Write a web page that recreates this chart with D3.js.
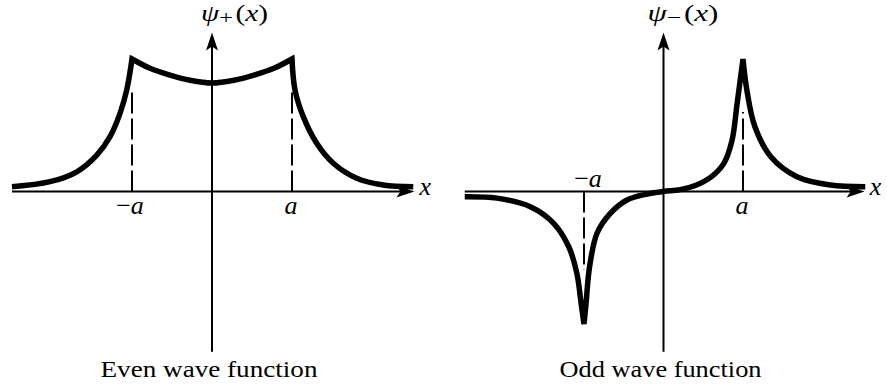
<!DOCTYPE html>
<html>
<head>
<meta charset="utf-8">
<script src="https://cdn.jsdelivr.net/npm/d3@7"></script>
<style>
  body { margin: 0; background: #fff; }
  svg { display: block; }
</style>
</head>
<body>
<div id="chart"></div>
<script>

// curve samples, x in units of a, y relative to the peak
var evenLeftTail = [[-2.5, 0.036], [-2.025, 0.074], [-1.69, 0.149], [-1.44, 0.275], [-1.275, 0.414], [-1.15, 0.59], [-1.066, 0.766], [-1.0, 1.0]];
var evenInner = [[-1.0, 1.0], [-0.775, 0.93], [-0.525, 0.879], [-0.275, 0.84], [0, 0.819], [0.275, 0.84], [0.525, 0.879], [0.775, 0.93], [1.0, 1.0]];
var evenRightTail = [[1.0, 1.0], [1.0375, 0.766], [1.141, 0.565], [1.309, 0.364], [1.516, 0.213], [1.809, 0.1], [2.141, 0.049], [2.516, 0.036]];

var oddLeftTail = [[-2.5, -0.039], [-2.094, -0.05], [-1.675, -0.115], [-1.381, -0.24], [-1.192, -0.417], [-1.09, -0.617], [-1.035, -0.85], [-1.0, -1.0]];
var oddInner = [[-1.0, -1.0], [-0.975, -0.85], [-0.93, -0.568], [-0.836, -0.315], [-0.669, -0.165], [-0.459, -0.064], [-0.208, -0.019], [0, 0],
                [0.211, 0.014], [0.4, 0.045], [0.6, 0.11], [0.757, 0.21], [0.86, 0.38], [0.925, 0.66], [1.0, 1.0]];
var oddRightTail = [[1.0, 1.0], [1.05, 0.76], [1.15, 0.489], [1.35, 0.263], [1.679, 0.112], [2.098, 0.049], [2.538, 0.036]];

// dashed guides at x = -a and x = a : [x, end of dash]
var evenGuides = [[-1, 0.774], [1, 0.774]];
var oddGuides = [[-1, -0.59], [1, 0.6]];

var panelTitles = ["Even wave function", "Odd wave function"];
var psiSubs = ["+", "\u2212"];

var serif = "'Times New Roman', 'Liberation Serif', serif";
var width = 887, height = 389;

var svg = d3.select("#chart").append("svg")
    .attr("width", width)
    .attr("height", height);

var y = d3.scaleLinear().domain([0, 1]).range([191.5, 59]);

var xEven = d3.scaleLinear().domain([-2.5, 2.5]).range([12, 412]);
var xOdd = d3.scaleLinear().domain([-2.5, 2.5]).range([464.75, 862.25]);

var panels = [
  { x: xEven, segs: [evenLeftTail, evenInner, evenRightTail], guides: evenGuides, title: panelTitles[0], sub: psiSubs[0],
    titleLen: 217, psiDx: -11, psiLen: 67, negBelow: true },
  { x: xOdd, segs: [oddLeftTail, oddInner, oddRightTail], guides: oddGuides, title: panelTitles[1], sub: psiSubs[1],
    titleLen: 202, psiDx: -16, psiLen: 71, negBelow: false }
];

function arrowPath(tx, ty, dir) {
  // dir: "right" or "up"
  if (dir == "right") {
    return "M" + tx + "," + ty + "L" + (tx - 18) + "," + (ty - 6) + "L" + (tx - 14) + "," + ty + "L" + (tx - 18) + "," + (ty + 6) + "Z";
  }
  return "M" + tx + "," + ty + "L" + (tx - 6) + "," + (ty + 18) + "L" + tx + "," + (ty + 14) + "L" + (tx + 6) + "," + (ty + 18) + "Z";
}

function addText(g) {
  return g.append("text").style("font-family", serif).attr("fill", "#000");
}

panels.forEach(function(p) {
  var g = svg.append("g");
  var x = p.x;

  // axes
  var xTip = x(2.53), yTip = y(1.2);
  g.append("line")
    .attr("x1", x(-2.5)).attr("x2", xTip - 6)
    .attr("y1", y(0)).attr("y2", y(0))
    .attr("stroke", "#000").attr("stroke-width", 2);
  g.append("path").attr("d", arrowPath(xTip, y(0), "right")).attr("fill", "#000");

  g.append("line")
    .attr("x1", x(0)).attr("x2", x(0))
    .attr("y1", y(-1.21)).attr("y2", yTip + 6)
    .attr("stroke", "#000").attr("stroke-width", 2);
  g.append("path").attr("d", arrowPath(x(0), yTip, "up")).attr("fill", "#000");

  // dashed guides
  g.selectAll(".guide")
    .data(p.guides)
    .enter()
    .append("line")
    .attr("class", "guide")
    .attr("x1", function(d) { return x(d[0]); })
    .attr("x2", function(d) { return x(d[0]); })
    .attr("y1", y(0))
    .attr("y2", function(d) { return y(d[1]); })
    .attr("stroke", "#000")
    .attr("stroke-width", 2)
    .attr("stroke-dasharray", "21,5");

  // wave function: one path, segments joined at the cusps
  var line = d3.line()
    .x(function(d) { return x(d[0]); })
    .y(function(d) { return y(d[1]); })
    .curve(d3.curveCatmullRom.alpha(0.5));

  var dStr = "";
  p.segs.forEach(function(s, i) {
    var part = line(s);
    if (i > 0) part = part.replace(/^M[^A-Za-z]*/, "");
    dStr += part;
  });

  g.append("path")
    .attr("d", dStr)
    .attr("fill", "none")
    .attr("stroke", "#000")
    .attr("stroke-width", 5.5)
    .attr("stroke-linejoin", "miter")
    .attr("stroke-miterlimit", 4);

  // labels
  var psi = addText(g)
    .attr("x", x(0) + p.psiDx)
    .attr("y", 21)
    .attr("font-size", 23)
    .attr("textLength", p.psiLen)
    .attr("lengthAdjust", "spacingAndGlyphs");
  psi.append("tspan").attr("font-style", "italic").text("\u03c8");
  psi.append("tspan").attr("font-size", 19).attr("dy", 3).text(p.sub);
  psi.append("tspan").attr("dy", -3).attr("dx", 2).text("(");
  psi.append("tspan").attr("font-style", "italic").text("x");
  psi.append("tspan").text(")");

  addText(g)
    .attr("x", xTip + 5)
    .attr("y", y(0))
    .attr("dy", "0.15em")
    .attr("font-size", 26)
    .attr("font-style", "italic")
    .text("x");

  var negLabel = addText(g)
    .attr("x", x(-1) + (p.negBelow ? -2 : 4))
    .attr("y", p.negBelow ? y(0) + 22 : y(0) - 5)
    .attr("text-anchor", "middle")
    .attr("font-size", 26);
  negLabel.append("tspan").text("\u2212");
  negLabel.append("tspan").attr("font-style", "italic").text("a");

  addText(g)
    .attr("x", x(1) - 1)
    .attr("y", y(0) + 22)
    .attr("text-anchor", "middle")
    .attr("font-size", 26)
    .attr("font-style", "italic")
    .text("a");

  addText(g)
    .attr("x", x(0) - 3)
    .attr("y", 377)
    .attr("text-anchor", "middle")
    .attr("font-size", 23)
    .attr("textLength", p.titleLen)
    .attr("lengthAdjust", "spacingAndGlyphs")
    .text(p.title);
});

</script>
</body>
</html>
